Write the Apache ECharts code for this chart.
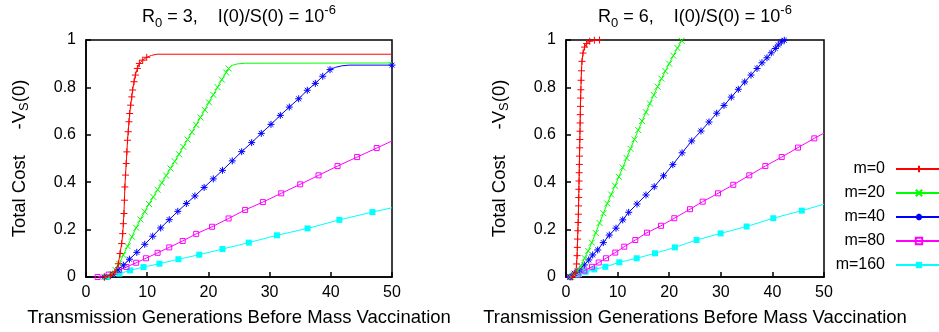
<!DOCTYPE html>
<html>
<head>
<meta charset="utf-8">
<script src="https://cdn.jsdelivr.net/npm/echarts@6/dist/echarts.min.js"></script>
<style>
  html, body { margin: 0; padding: 0; background: #fff; }
  #chart { width: 939px; height: 332px; }
</style>
</head>
<body>
<div id="chart"></div>
<script>
const FONT = "'Liberation Sans', Arial, Helvetica, sans-serif";

const seriesNames = ["m=0", "m=20", "m=40", "m=80", "m=160"];
const xName = "Transmission Generations Before Mass Vaccination";

// left panel: R0 = 3  -- [generations, cost]; *Tail points are drawn without markers
const left0 = [[3.0,0.0],[4.0,0.006],[4.74,0.021],[5.29,0.056],[5.56,0.099],[5.83,0.141],[6.0,0.183],[6.1,0.225],[6.2,0.268],[6.28,0.324],[6.35,0.38],[6.46,0.43],[6.57,0.479],[6.68,0.528],[6.79,0.577],[6.9,0.613],[7.02,0.655],[7.14,0.69],[7.3,0.725],[7.48,0.76],[7.62,0.789],[7.85,0.824],[8.07,0.852],[8.4,0.88],[8.72,0.901],[9.27,0.915],[9.92,0.927]];
const left0Tail = [[10.7,0.935],[11.6,0.94],[50,0.94]];
const left20 = [[3.2,0.0],[4.2,0.012],[4.8,0.03],[5.4,0.056],[6.1,0.093],[6.8,0.13],[7.5,0.17],[8.2,0.208],[8.9,0.243],[9.6,0.276],[10.3,0.308],[11.0,0.338],[11.7,0.368],[12.4,0.398],[13.1,0.428],[13.8,0.458],[14.5,0.488],[15.2,0.518],[15.9,0.549],[16.6,0.58],[17.3,0.611],[18.0,0.642],[18.7,0.673],[19.4,0.705],[20.1,0.737],[20.8,0.769],[21.5,0.801],[22.2,0.833],[22.9,0.863],[23.3,0.88]];
const left20Tail = [[23.9,0.893],[24.7,0.899],[26.0,0.902],[50,0.903]];
const left40 = [[3.0,0.0],[4.4,0.012],[5.2,0.03],[6.1,0.05],[7.1,0.075],[8.3,0.104],[9.6,0.138],[10.9,0.172],[12.2,0.207],[13.6,0.242],[15.0,0.277],[16.4,0.31],[17.8,0.342],[19.3,0.378],[20.8,0.414],[22.3,0.45],[23.9,0.49],[25.44,0.529],[27.07,0.567],[28.64,0.606],[30.23,0.644],[31.75,0.682],[33.22,0.717],[34.75,0.752],[36.16,0.788],[37.47,0.817],[38.68,0.847],[39.87,0.875]];
const left40Tail = [[40.8,0.885],[41.8,0.891],[43.0,0.894]];
const left40End = [[50,0.894]];
const left80 = [[1.9,0.0],[3.7,0.01],[5.4,0.03],[6.6,0.042],[8.2,0.06],[9.8,0.079],[11.7,0.102],[13.6,0.125],[15.8,0.152],[18.0,0.182],[20.6,0.212],[23.3,0.247],[26.0,0.283],[28.9,0.316],[31.9,0.353],[35.0,0.391],[38.0,0.429],[41.1,0.468],[44.3,0.506],[47.5,0.544]];
const left80Tail = [[50,0.574]];
const left160 = [[3.5,0.0],[5.45,0.014],[7.2,0.028],[9.4,0.042],[12.0,0.056],[15.1,0.075],[18.5,0.094],[22.3,0.118],[26.6,0.145],[31.2,0.176],[36.2,0.205],[41.4,0.241],[46.8,0.274]];
const left160Tail = [[50,0.292]];

// right panel: R0 = 6
const right0 = [[1.2,0.0],[1.9,0.02],[2.05,0.055],[2.15,0.09],[2.2,0.125],[2.25,0.16],[2.3,0.195],[2.35,0.23],[2.4,0.265],[2.43,0.3],[2.47,0.335],[2.5,0.37],[2.53,0.405],[2.56,0.44],[2.59,0.475],[2.62,0.51],[2.65,0.545],[2.68,0.58],[2.71,0.615],[2.74,0.65],[2.77,0.685],[2.8,0.72],[2.84,0.755],[2.88,0.79],[2.93,0.83],[3.0,0.87],[3.1,0.91],[3.3,0.945],[3.6,0.97],[4.0,0.985],[4.6,0.995],[5.5,0.999],[6.5,1.0]];
const right20 = [[1.0,0.0],[1.5,0.01],[2.2,0.025],[2.9,0.045],[3.6,0.08],[4.3,0.11],[5.0,0.145],[5.75,0.186],[6.5,0.228],[7.25,0.269],[8.0,0.31],[8.75,0.348],[9.5,0.385],[10.25,0.423],[11.0,0.462],[11.75,0.502],[12.5,0.541],[13.25,0.58],[14.0,0.62],[14.75,0.658],[15.5,0.695],[16.25,0.732],[17.0,0.768],[17.75,0.803],[18.5,0.837],[19.25,0.869],[20.0,0.9],[20.8,0.934],[21.6,0.966],[22.4,0.997]];
const right40 = [[0.8,0.0],[1.6,0.016],[2.58,0.03],[3.55,0.051],[4.4,0.072],[5.17,0.093],[6.14,0.114],[7.23,0.145],[8.39,0.177],[9.69,0.206],[10.99,0.241],[12.15,0.273],[13.76,0.308],[15.5,0.346],[17.1,0.381],[18.9,0.427],[20.7,0.474],[22.5,0.524],[24.36,0.574],[26.16,0.616],[27.71,0.654],[29.2,0.691],[30.62,0.724],[32.04,0.759],[33.39,0.792],[34.63,0.823],[35.85,0.852],[37.02,0.88],[37.98,0.904],[38.95,0.925],[39.79,0.946],[40.56,0.964],[41.14,0.979],[41.72,0.992],[42.31,0.999]];
const right80 = [[0.8,0.0],[2.26,0.008],[3.55,0.027],[5.04,0.043],[6.34,0.061],[7.75,0.079],[9.55,0.103],[11.3,0.128],[13.43,0.156],[15.7,0.187],[18.41,0.216],[20.99,0.248],[24.03,0.286],[26.49,0.318],[29.46,0.353],[32.42,0.389],[35.52,0.429],[38.63,0.468],[41.8,0.506],[44.96,0.546],[48.12,0.585]];
const right80Tail = [[50,0.607]];
const right160 = [[0.78,0.0],[2.52,0.013],[3.82,0.022],[5.48,0.032],[7.62,0.043],[10.33,0.062],[13.7,0.079],[17.25,0.1],[21.1,0.125],[25.3,0.156],[29.97,0.184],[35.0,0.213],[40.18,0.248],[45.7,0.28]];
const right160Tail = [[50,0.307]];

const colors = ["#ff0000", "#00ff00", "#0000ff", "#ff00ff", "#00ffff"];
// gnuplot point types: +, x, *, open square, filled square
const marks = [
  { symbol: "path://M0,5H10M5,0V10", size: 7 },
  { symbol: "path://M1,1L9,9M9,1L1,9", size: 6 },
  { symbol: "path://M0,5H10M5,0V10M1.5,1.5L8.5,8.5M8.5,1.5L1.5,8.5", size: 7 },
  { symbol: "rect", size: 5 },
  { symbol: "rect", size: 6 },
];

function curve(k, grid, pts, tail, end) {
  const c = colors[k];
  const data = pts
    .concat((tail || []).map((p) => ({ value: p, symbol: "none" })))
    .concat(end || []);
  return {
    name: seriesNames[k],
    type: "line",
    xAxisIndex: grid,
    yAxisIndex: grid,
    data,
    symbol: marks[k].symbol,
    symbolSize: marks[k].size,
    lineStyle: { color: c, width: 1 },
    itemStyle: k === 3
      ? { color: "rgba(255,255,255,0)", borderColor: c, borderWidth: 1 }
      : { color: c, borderColor: c, borderWidth: k === 4 ? 0 : 1 },
    emphasis: { disabled: true },
    z: 10 - k,
  };
}

const txt = (size, lh, pad) => ({ fontSize: size, lineHeight: lh, padding: [pad, 0, 0, 0], verticalAlign: "top", color: "#000", fontWeight: "normal", fontFamily: FONT });
const rich = { n: txt(18, 20, 6), sb: txt(13, 13, 15), sp: txt(13, 13, 2) };
const nameRich = { n: txt(18.5, 20, 4), sb: txt(13, 13, 12) };

const grids = [
  { left: 86, top: 40, width: 306, height: 237 },
  { left: 566, top: 40, width: 258, height: 237 },
];

const chart = echarts.init(document.getElementById("chart"), null, { renderer: "canvas" });
chart.setOption({
  animation: false,
  backgroundColor: "#fff",
  title: [
    { text: "{n|R}{sb|0}{n| = 3,    I(0)/S(0) = 10}{sp|-6}", left: 239, top: 2, textAlign: "center", padding: 0, textStyle: { fontWeight: "normal", rich } },
    { text: "{n|R}{sb|0}{n| = 6,    I(0)/S(0) = 10}{sp|-6}", left: 695, top: 2, textAlign: "center", padding: 0, textStyle: { fontWeight: "normal", rich } },
  ],
  legend: {
    data: seriesNames,
    orient: "vertical",
    align: "right",
    right: -4,
    top: 161,
    padding: 0,
    itemWidth: 46,
    itemHeight: 8,
    itemGap: 8,
    selectedMode: false,
    textStyle: { fontSize: 16, color: "#000", fontFamily: FONT, padding: [0, 6, 0, 0] },
  },
  grid: grids.map((g) => ({ ...g, show: true, borderColor: "#000", borderWidth: 1.5, backgroundColor: "transparent", outerBoundsMode: "none" })),
  xAxis: grids.map((g, i) => ({
    gridIndex: i,
    type: "value",
    min: 0,
    max: 50,
    interval: 10,
    name: xName,
    nameLocation: "middle",
    nameGap: 31,
    nameMoveOverlap: false,
    nameTextStyle: { fontSize: 18.5, color: "#000", fontFamily: FONT },
    axisLine: { show: true, lineStyle: { color: "#000", width: 1.5 } },
    axisTick: { inside: true, length: 5, lineStyle: { color: "#000", width: 1.5 } },
    axisLabel: { color: "#000", fontSize: 16, fontFamily: FONT, margin: 8 },
    splitLine: { show: false },
  })),
  yAxis: grids.map((g, i) => ({
    gridIndex: i,
    type: "value",
    min: 0,
    max: 1,
    interval: 0.2,
    name: "{n|Total Cost     -V}{sb|S}{n|(0)}",
    nameLocation: "middle",
    nameGap: 60,
    nameMoveOverlap: false,
    nameTextStyle: { rich: nameRich },
    axisLine: { show: true, lineStyle: { color: "#000", width: 1.5 } },
    axisTick: { inside: true, length: 5, lineStyle: { color: "#000", width: 1.5 } },
    axisLabel: { color: "#000", fontSize: 16, fontFamily: FONT, margin: 10 },
    splitLine: { show: false },
  })),
  series: [
    curve(0, 0, left0, left0Tail),
    curve(1, 0, left20, left20Tail),
    curve(2, 0, left40, left40Tail, left40End),
    curve(3, 0, left80, left80Tail),
    curve(4, 0, left160, left160Tail),
    curve(0, 1, right0),
    curve(1, 1, right20),
    curve(2, 1, right40),
    curve(3, 1, right80, right80Tail),
    curve(4, 1, right160, right160Tail),
  ],
});
</script>
</body>
</html>
